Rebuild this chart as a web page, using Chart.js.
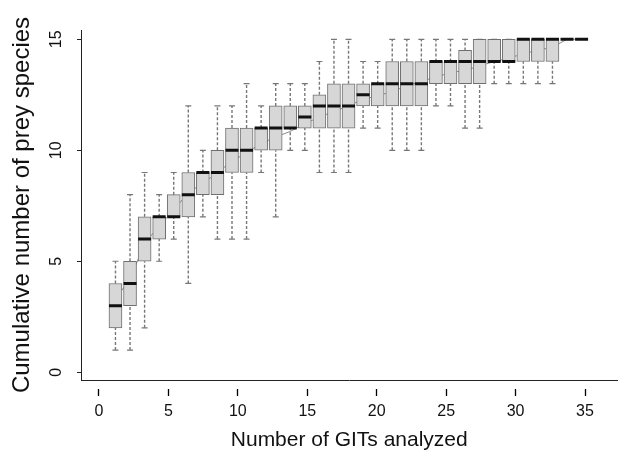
<!DOCTYPE html>
<html>
<head>
<meta charset="utf-8">
<script src="https://cdn.jsdelivr.net/npm/chart.js@4.4.1/dist/chart.umd.min.js"></script>
<style>
  html, body { margin: 0; padding: 0; background: #fff; }
</style>
</head>
<body>
<canvas id="chart" width="627" height="453"></canvas>
<script>
// number of GITs analyzed (one box per count)
const gits = [1, 2, 3, 4, 5, 6, 7, 8, 9, 10, 11, 12, 13, 14, 15, 16, 17, 18, 19, 20, 21, 22, 23, 24, 25, 26, 27, 28, 29, 30, 31, 32, 33];
const whiskerLow  = [1, 1, 2, 5, 6, 4, 7, 6, 6, 6, 9, 7, 10, 10, 9, 9, 9, 11, 11, 10, 10, 10, 12, 12, 11, 11, 13, 13, 13, 13, 13, 15, 15];
const quart1      = [2, 3, 5, 6, 7, 7, 8, 8, 9, 9, 10, 10, 11, 11, 11, 11, 11, 12, 12, 12, 12, 12, 13, 13, 13, 13, 14, 14, 14, 14, 14, 15, 15];
const medians     = [3, 4, 6, 7, 7, 8, 9, 9, 10, 10, 11, 11, 11, 11.5, 12, 12, 12, 12.5, 13, 13, 13, 13, 14, 14, 14, 14, 14, 14, 15, 15, 15, 15, 15];
const quart3      = [4, 5, 7, 7, 8, 9, 9, 10, 11, 11, 11, 12, 12, 12, 12.5, 13, 13, 13, 13, 14, 14, 14, 14, 14, 14.5, 15, 15, 15, 15, 15, 15, 15, 15];
const whiskerHigh = [5, 8, 9, 8, 9, 12, 10, 12, 12, 13, 12, 13, 13, 13, 14, 15, 15, 14, 14, 15, 15, 15, 15, 15, 15, 15, 15, 15, 15, 15, 15, 15, 15];
const means       = [3.3, 4.2, 5.8, 6.6, 7.3, 8.1, 8.5, 9.0, 9.5, 9.9, 10.3, 10.6, 10.85, 11.2, 11.5, 11.75, 12.0, 12.3, 12.45, 12.65, 12.9, 13.1, 13.3, 13.5, 13.6, 13.8, 14.0, 14.15, 14.35, 14.5, 14.65, 15, 15];

const xTicks = [0, 5, 10, 15, 20, 25, 30, 35];
const yTicks = [0, 5, 10, 15];

Chart.defaults.font.family = '"Liberation Sans", Arial, sans-serif';
Chart.defaults.color = '#111';

const boxData = gits.map((g, i) => ({ x: g, y: [quart1[i], quart3[i]] }));
const medianData = gits.map((g, i) => ({ x: g, y: medians[i] }));
const meanData = gits.map((g, i) => ({ x: g, y: means[i] }));
const capData = [];
const whiskerData = [];
gits.forEach((g, i) => {
  capData.push({ x: g, y: whiskerLow[i] }, { x: g, y: whiskerHigh[i] });
  whiskerData.push(
    { x: g, y: whiskerLow[i] }, { x: g, y: quart1[i] }, { x: g, y: null },
    { x: g, y: quart3[i] }, { x: g, y: whiskerHigh[i] }, { x: g, y: null }
  );
});

const ctx = document.getElementById('chart').getContext('2d');
new Chart(ctx, {
  type: 'bar',
  data: {
    datasets: [
      {
        type: 'line', data: meanData, xAxisID: 'xb', yAxisID: 'y',
        borderColor: '#8c8c8c', borderWidth: 1, pointRadius: 0, order: 6
      },
      {
        type: 'line', data: whiskerData, xAxisID: 'xb', yAxisID: 'y',
        borderColor: '#777', borderWidth: 1.4, borderDash: [3, 2],
        pointRadius: 0, spanGaps: false, order: 5
      },
      {
        type: 'scatter', data: capData, xAxisID: 'xb', yAxisID: 'y',
        pointStyle: 'line', pointRadius: 3, pointHoverRadius: 3,
        borderColor: '#777', pointBorderColor: '#777', pointBorderWidth: 1.2, order: 5
      },
      {
        type: 'bar', data: boxData, xAxisID: 'xb', yAxisID: 'y',
        barThickness: 13, backgroundColor: '#d7d7d7', borderColor: '#6f6f6f',
        borderWidth: 1, borderSkipped: false, order: 3
      },
      {
        type: 'scatter', data: medianData, xAxisID: 'xb', yAxisID: 'y',
        pointStyle: 'line', pointRadius: 6.5, pointHoverRadius: 6.5,
        borderColor: '#111', pointBorderColor: '#111', pointBorderWidth: 3, order: 1
      }
    ]
  },
  options: {
    responsive: false,
    animation: false,
    layout: { padding: { top: 30, right: 9, bottom: 0, left: 0 } },
    plugins: { legend: { display: false }, tooltip: { enabled: false } },
    scales: {
      x: {
        type: 'linear', position: 'bottom', min: -1.295, max: 37.34, offset: false,
        afterBuildTicks: s => { s.ticks = xTicks.map(v => ({ value: v })); },
        afterFit: s => { s.height = 73; },
        grid: { offset: false, drawOnChartArea: false, tickLength: 16, tickBorderDash: [0, 8, 8], tickColor: '#000', tickWidth: 1.3 },
        border: { display: true, color: '#222', width: 1 },
        ticks: { padding: 6, maxRotation: 0, font: { size: 16 } },
        title: {
          display: true, text: 'Number of GITs analyzed',
          font: { size: 21 }, padding: { top: 0, bottom: 0 }
        }
      },
      xb: {
        type: 'linear', axis: 'x', display: false, offset: false,
        grid: { offset: false }, min: -1.366, max: 35.465
      },
      y: {
        type: 'linear', position: 'left', min: -0.35, max: 15.42,
        afterBuildTicks: s => { s.ticks = yTicks.map(v => ({ value: v })); },
        afterFit: s => { s.width = 81; },
        grid: { drawOnChartArea: false, tickLength: 4, tickColor: '#222' },
        border: { display: true, color: '#222', width: 1 },
        ticks: { minRotation: 90, maxRotation: 90, crossAlign: 'center', padding: 12, font: { size: 16 } },
        title: {
          display: true, text: 'Cumulative number of prey species',
          font: { size: 24 }, padding: { top: 8, bottom: 0 }
        }
      }
    }
  }
});
</script>
</body>
</html>
